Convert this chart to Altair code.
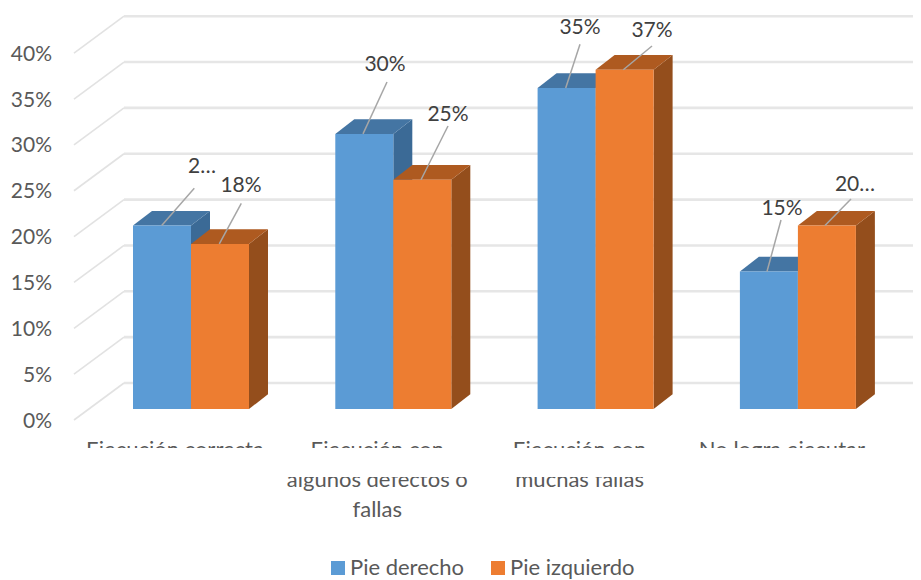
import altair as alt
import pandas as pd

# ---- values ----
categories = ["Ejecución correcta", "Ejecución con algunos defectos o fallas",
              "Ejecución con muchas fallas", "No logra ejecutar"]
category_lines = [["Ejecución correcta"],
                  ["Ejecución con", "algunos defectos o", "fallas"],
                  ["Ejecución con", "muchas fallas"],
                  ["No logra ejecutar"]]
series_names = ["Pie derecho", "Pie izquierdo"]
pie_derecho = [20, 30, 35, 15]
pie_izquierdo = [18, 25, 37, 20]
axis_ticks = [0, 5, 10, 15, 20, 25, 30, 35, 40]
tick_labels = ["0%", "5%", "10%", "15%", "20%", "25%", "30%", "35%", "40%"]
label_texts = ["2…", "18%", "30%", "25%", "35%", "37%", "15%", "20…"]

# ---- layout (page pixels) ----
FONT = "Lato"
W, H = 905, 572
Y0, PXY = 409.0, 9.17      # front floor of the bars, pixels per percent
C0, STEP = 191.0, 202.3    # centre of first group, group spacing


def ux(px):
    return (px - C0) / STEP


def uy(py):
    return (Y0 - py) / PXY


XS = alt.Scale(domain=[ux(8), ux(8 + W)], nice=False, zero=False)
YS = alt.Scale(domain=[uy(8 + H), uy(8)], nice=False, zero=False)
X = lambda f: alt.X(f, type="quantitative", scale=XS, axis=None)
Y = lambda f: alt.Y(f, type="quantitative", scale=YS, axis=None)

BW = 58 / STEP           # bar width
DX = 19 / STEP           # depth in x
DY = 14.7 / PXY          # depth in y
WALL_BACK = 26 / PXY     # back wall above the bars' floor
WALL_FRONT = -11 / PXY   # front edge below the bars' floor
TEXT_DROP = 1.5 / PXY    # Lato's middle sits a little high

# gridlines
grid_back = pd.DataFrame([{"x": ux(124), "x2": ux(913), "y": t + WALL_BACK, "y2": t + WALL_BACK} for t in axis_ticks])
grid_diag = pd.DataFrame([{"x": ux(74), "x2": ux(124), "y": t + WALL_FRONT, "y2": t + WALL_BACK} for t in axis_ticks])
ticks_df = pd.DataFrame([{"x": ux(52), "y": t + WALL_FRONT - TEXT_DROP, "t": l} for t, l in zip(axis_ticks, tick_labels)])


def rule(df, color, width):
    return alt.Chart(df).mark_rule(color=color, strokeWidth=width).encode(
        x=X("x"), x2="x2", y=Y("y"), y2="y2")


layers = [rule(grid_back, "#e6e6e6", 2.6), rule(grid_diag, "#e2e2e2", 1.6)]
layers.append(alt.Chart(ticks_df).mark_text(font=FONT, fontSize=21, color="#595959", align="right", baseline="middle")
              .encode(x=X("x"), y=Y("y"), text="t:N"))

# bars
colors = ["#5B9BD5", "#ED7D31"]
tops = ["#4475A3", "#AE5A20"]
sides = ["#3B6A96", "#944E1C"]
for s, vals in enumerate([pie_derecho, pie_izquierdo]):
    front, side, top = [], [], []
    for i, v in enumerate(vals):
        x0 = i + (s - 1) * BW
        x1 = i + s * BW
        front.append({"x": x0, "x2": x1, "y": 0, "y2": v, "serie": series_names[s]})
        side += [{"g": i, "x": x1, "y": 0, "y2": v},
                 {"g": i, "x": x1 + DX, "y": DY, "y2": v + DY}]
        top += [{"g": i, "y": v, "x": x0, "x2": x1},
                {"g": i, "y": v + DY, "x": x0 + DX, "x2": x1 + DX}]
    layers.append(alt.Chart(pd.DataFrame(side)).mark_area(color=sides[s], orient="vertical", interpolate="linear")
                  .encode(x=X("x"), y=Y("y"), y2="y2", detail="g:N"))
    layers.append(alt.Chart(pd.DataFrame(top)).mark_area(color=tops[s], orient="horizontal", interpolate="linear")
                  .encode(y=Y("y"), x=X("x"), x2="x2", detail="g:N"))
    layers.append(alt.Chart(pd.DataFrame(front)).mark_rect().encode(
        x=X("x"), x2="x2", y=Y("y"), y2="y2",
        color=alt.Color("serie:N", scale=alt.Scale(domain=series_names, range=colors),
                        legend=alt.Legend(title=None, orient="none", legendX=319, legendY=549,
                                          direction="horizontal", columns=2, symbolType="square", symbolSize=196,
                                          symbolStrokeWidth=0, labelFont=FONT, labelFontSize=22,
                                          labelColor="#595959", labelOffset=1, columnPadding=22, padding=0))))

# data labels and leader lines (leader end and label centre, page pixels)
leader_start_x = [161.7, 219.3, 363, 421, 565.7, 623.3, 767, 825]
leader_start_v = [20, 18, 30, 25, 35, 37, 15, 20]
leader_end = [(194.3, 188.3), (241.3, 203.3), (387, 82), (448, 126),
              (580, 44.3), (652, 46), (781, 220), (851, 199)]
label_pos = [(202, 165), (241, 184), (385, 63), (448, 113),
             (580, 26), (652, 29), (782, 207), (855, 183)]
lead = pd.DataFrame([{"x": ux(sx), "y": v, "x2": ux(e[0]), "y2": uy(e[1])}
                     for sx, v, e in zip(leader_start_x, leader_start_v, leader_end)])
layers.append(rule(lead, "#a6a6a6", 1.5))
lab = pd.DataFrame([{"x": ux(p[0]), "y": uy(p[1]) - TEXT_DROP, "t": t} for p, t in zip(label_pos, label_texts)])
layers.append(alt.Chart(lab).mark_text(font=FONT, fontSize=21, color="#404040", align="center", baseline="middle")
              .encode(x=X("x"), y=Y("y"), text="t:N"))

# category labels, then the white band that cuts them as in the reference
cat_rows = []
for i, lines in enumerate(category_lines):
    for k, t in enumerate(lines):
        cat_rows.append({"x": i - 16 / STEP, "y": uy(457 + 30 * k), "t": t})
layers.append(alt.Chart(pd.DataFrame(cat_rows)).mark_text(font=FONT, fontSize=22, color="#595959", align="center", baseline="alphabetic")
              .encode(x=X("x"), y=Y("y"), text="t:N"))
mask = pd.DataFrame([{"x": ux(8), "x2": ux(913), "y": uy(448), "y2": uy(477)}])
layers.append(alt.Chart(mask).mark_rect(color="white").encode(x=X("x"), x2="x2", y=Y("y"), y2="y2"))

chart = alt.layer(*layers).properties(
    width=W, height=H, padding=0, autosize=alt.AutoSizeParams(type="none")
).configure_view(stroke=None)

chart.save("out.html", embed_options={"renderer": "svg", "actions": False})
